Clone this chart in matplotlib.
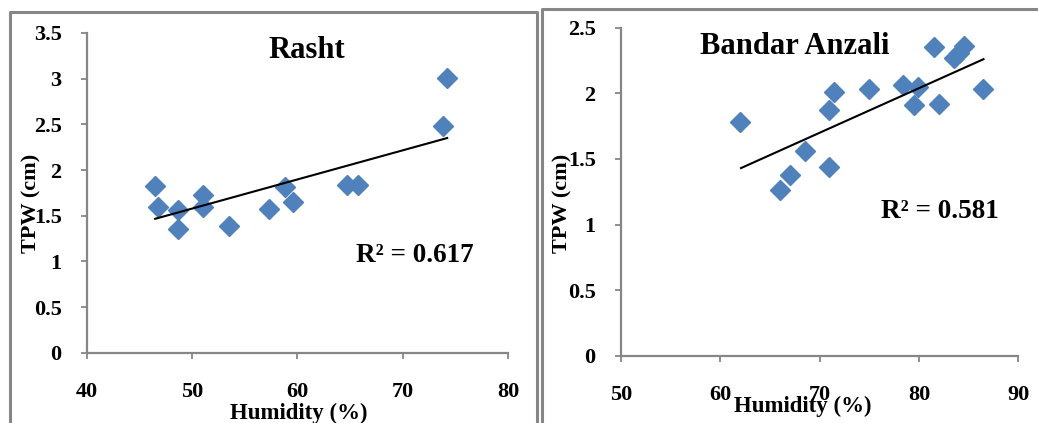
import numpy as np
import matplotlib
matplotlib.use('Agg')
from matplotlib import pyplot as plt
from matplotlib.lines import Line2D

# Rasht: humidity (%) vs TPW (cm)
rasht_hum = [46.5, 46.8, 48.7, 48.7, 51.0, 51.0, 53.5, 57.3, 58.8, 59.6, 64.7, 65.7, 73.8, 74.2]
rasht_tpw = [1.82, 1.60, 1.56, 1.35, 1.73, 1.60, 1.385, 1.57, 1.81, 1.65, 1.84, 1.84, 2.48, 3.01]
# linear trendline as drawn (start/end values)
rasht_trend_x = [46.5, 74.2]
rasht_trend_y = [1.466, 2.35]

# Bandar Anzali
anzali_hum = [62.0, 66.0, 67.0, 68.5, 71.0, 71.0, 71.5, 75.0, 78.4, 79.9, 79.5, 82.0, 81.5, 83.5, 84.0, 84.5, 86.5]
anzali_tpw = [1.78, 1.26, 1.38, 1.56, 1.44, 1.87, 2.01, 2.03, 2.06, 2.05, 1.91, 1.92, 2.35, 2.27, 2.31, 2.36, 2.03]
anzali_trend_x = [62.1, 86.5]
anzali_trend_y = [1.43, 2.26]

rasht_r2 = 'R² = 0.617'
anzali_r2 = 'R² = 0.581'

plt.rcParams['font.family'] = ['Liberation Serif', 'DejaVu Serif']
plt.rcParams['font.weight'] = 'bold'

blue = '#4F81BD'
gray = '#868686'

fig = plt.figure(figsize=(10.38, 4.23), dpi=100)

# panel borders
W, H = 1038.0, 423.0
def fline(xs, ys):
    fig.add_artist(Line2D([x / W for x in xs], [1 - y / H for y in ys],
                          color=gray, lw=2.2, transform=fig.transFigure))
fline([9.5, 9.5, 537, 537], [430, 12.5, 12.5, 430])
fline([541.5, 541.5, 1045], [430, 8.7, 8.7])


def style(ax, xlim, xticks, ylim, yticks):
    ax.set_xlim(*xlim)
    ax.set_ylim(*ylim)
    ax.set_xticks(xticks)
    ax.set_yticks(yticks)
    ax.set_xticklabels([str(t) for t in xticks])
    ax.set_yticklabels(['%g' % t for t in yticks])
    for s in ['top', 'right']:
        ax.spines[s].set_visible(False)
    for s in ['left', 'bottom']:
        ax.spines[s].set_color(gray)
        ax.spines[s].set_linewidth(1.6)
    ax.tick_params(direction='out', length=4, width=1.3, color=gray,
                   labelsize=16, pad=17)
    ax.tick_params(axis='y', pad=14)
    for lab in ax.get_xticklabels() + ax.get_yticklabels():
        lab.set_fontweight('bold')


def panel(ax, hum, tpw, tx, ty):
    ax.plot(hum, tpw, linestyle='none', marker='D', ms=10.5, color=blue, zorder=3)
    ax.plot(tx, ty, color='black', lw=1.5, zorder=4)


# Rasht
ax1 = fig.add_axes([0.0835, 0.1662, 0.4062, 0.7558])
panel(ax1, rasht_hum, rasht_tpw, rasht_trend_x, rasht_trend_y)
style(ax1, (40, 80), [40, 50, 60, 70, 80], (0, 3.5), [0, 0.5, 1, 1.5, 2, 2.5, 3, 3.5])
ax1.text(307 / W, 1 - 51 / H, 'Rasht', transform=fig.transFigure, ha='center',
         va='center', fontsize=22, fontweight='bold')
ax1.text(415 / W, 1 - 255 / H, rasht_r2, transform=fig.transFigure, ha='center',
         va='center', fontsize=19.5, fontweight='bold')
fig.text(31 / W, 1 - 203 / H, 'TPW (cm)', rotation=90, ha='center', va='center',
         fontsize=16, fontweight='bold')
fig.text(298.5 / W, 1 - 413 / H, 'Humidity (%)', ha='center', va='center',
         fontsize=16.5, fontweight='bold')

# Bandar Anzali
ax2 = fig.add_axes([0.598, 0.1591, 0.383, 0.7754])
panel(ax2, anzali_hum, anzali_tpw, anzali_trend_x, anzali_trend_y)
style(ax2, (50, 90), [50, 60, 70, 80, 90], (0, 2.5), [0, 0.5, 1, 1.5, 2, 2.5])
ax2.text(795 / W, 1 - 47 / H, 'Bandar Anzali', transform=fig.transFigure, ha='center',
         va='center', fontsize=22, fontweight='bold')
ax2.text(940 / W, 1 - 212 / H, anzali_r2, transform=fig.transFigure, ha='center',
         va='center', fontsize=19.5, fontweight='bold')
fig.text(562 / W, 1 - 203 / H, 'TPW (cm)', rotation=90, ha='center', va='center',
         fontsize=16, fontweight='bold')
fig.text(803 / W, 1 - 406 / H, 'Humidity (%)', ha='center', va='center',
         fontsize=16.5, fontweight='bold')

fig.savefig('out.png', dpi=100)
